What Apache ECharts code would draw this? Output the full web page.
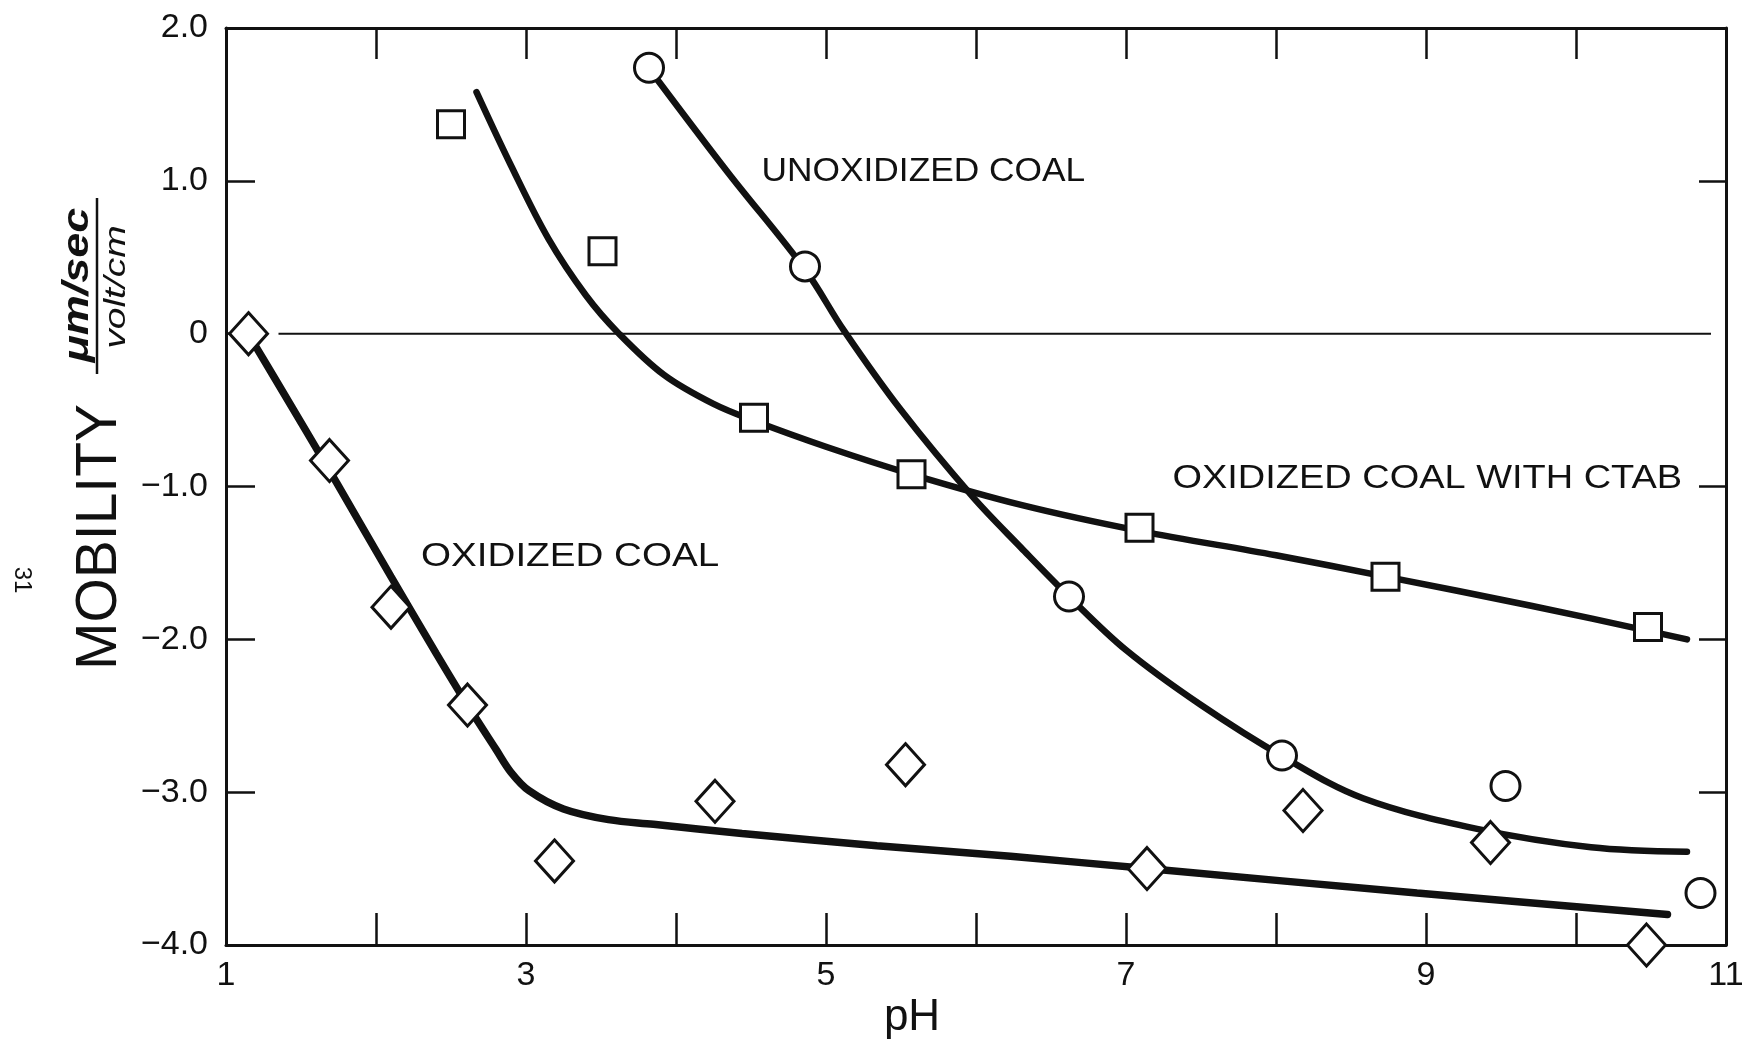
<!DOCTYPE html>
<html>
<head>
<meta charset="utf-8">
<script src="https://cdn.jsdelivr.net/npm/echarts@6/dist/echarts.min.js"></script>
<style>
  html, body { margin: 0; padding: 0; background: #ffffff; }
  #chart { width: 1743px; height: 1044px; }
</style>
</head>
<body>
<div id="chart"></div>
<script>
// Measured electrophoretic mobility, [pH, mobility]
const oxidizedPts = [[1.15, 0.00], [1.69, -0.83], [2.10, -1.79], [2.61, -2.43], [3.19, -3.45],
  [4.26, -3.06], [5.53, -2.82], [7.14, -3.50], [8.18, -3.12], [9.43, -3.33], [10.47, -4.00]];
const ctabPts = [[2.50, 1.37], [3.51, 0.54], [4.52, -0.55], [5.57, -0.92], [7.09, -1.27],
  [8.73, -1.59], [10.48, -1.92]];
const unoxidizedPts = [[3.82, 1.74], [4.86, 0.44], [6.62, -1.72], [8.04, -2.76], [9.53, -2.96],
  [10.83, -3.66]];

// Hand-fitted trend curves, [pH, mobility]
const oxidizedFit = [[1.19, -0.07], [1.33, -0.30], [1.74, -0.98], [2.10, -1.59], [2.40, -2.09],
  [2.61, -2.43], [2.80, -2.72], [2.90, -2.87], [3.02, -2.99], [3.25, -3.11], [3.55, -3.18],
  [3.85, -3.21], [4.44, -3.27], [5.34, -3.35], [6.23, -3.42], [7.14, -3.50], [8.94, -3.66],
  [10.61, -3.80]];
const ctabFit = [[2.67, 1.58], [2.90, 1.10], [3.15, 0.62], [3.40, 0.25], [3.62, 0.00],
  [3.92, -0.27], [4.25, -0.46], [4.52, -0.57], [5.00, -0.74], [5.57, -0.92], [6.30, -1.12],
  [7.09, -1.29], [8.00, -1.45], [8.73, -1.59], [9.70, -1.78], [10.74, -2.00]];
const unoxidizedFit = [[3.87, 1.67], [4.35, 1.05], [4.86, 0.42], [5.12, 0.02], [5.50, -0.50],
  [5.98, -1.07], [6.30, -1.40], [6.62, -1.72], [7.00, -2.07], [7.50, -2.43], [8.05, -2.77],
  [8.58, -3.04], [9.34, -3.24], [10.10, -3.36], [10.74, -3.39]];

// Zero reference line
const zeroLine = [[1.35, 0], [10.90, 0]];

// Axis tick labels
const xTickLabels = [1, 3, 5, 7, 9, 11];
const yTickValues = [2, 1, 0, -1, -2, -3, -4];
const rightTickValues = [1, -1, -2, -3];

// Curve labels, anchored at [pH, mobility] (left end of text)
const curveLabels = [
  { text: 'UNOXIDIZED COAL', at: [4.57, 1.06], stretch: 1.07 },
  { text: 'OXIDIZED COAL WITH CTAB', at: [7.31, -0.95], stretch: 1.15 },
  { text: 'OXIDIZED COAL', at: [2.30, -1.46], stretch: 1.17 }
];

const FONT = 'Liberation Sans';
const INK = '#111111';

const chart = echarts.init(document.getElementById('chart'), null, { renderer: 'canvas' });

function yLabel(v) {
  if (v === 0) return '0';
  return (v < 0 ? '\u2212' : '') + Math.abs(v).toFixed(1);
}

const tickBase = { show: true, inside: true, lineStyle: { color: INK, width: 2.5 } };

const markerStyle = { color: '#ffffff', borderColor: INK, borderWidth: 3, opacity: 1 };

chart.setOption({
  animation: false,
  backgroundColor: '#ffffff',
  grid: { left: 226, right: 17, top: 28, bottom: 99, outerBoundsMode: 'none' },
  xAxis: [
    {
      type: 'value', position: 'bottom', min: 1, max: 11, interval: 1,
      axisLine: { show: true, onZero: false, lineStyle: { color: INK, width: 3 } },
      axisTick: Object.assign({}, tickBase, { length: 32 }),
      axisLabel: {
        show: true, customValues: xTickLabels, color: INK, fontFamily: FONT,
        fontSize: 34, margin: 14
      },
      splitLine: { show: false }
    },
    {
      type: 'value', position: 'top', min: 1, max: 11, interval: 1,
      axisLine: { show: true, onZero: false, lineStyle: { color: INK, width: 3 } },
      axisTick: Object.assign({}, tickBase, { length: 31 }),
      axisLabel: { show: false },
      splitLine: { show: false }
    }
  ],
  yAxis: [
    {
      type: 'value', position: 'left', min: -4, max: 2, interval: 1,
      axisLine: { show: true, onZero: false, lineStyle: { color: INK, width: 3 } },
      axisTick: Object.assign({}, tickBase, { length: 29 }),
      axisLabel: {
        show: true, customValues: yTickValues, formatter: yLabel, color: INK,
        fontFamily: FONT, fontSize: 34, margin: 18
      },
      splitLine: { show: false }
    },
    {
      type: 'value', position: 'right', min: -4, max: 2, interval: 1,
      axisLine: { show: true, onZero: false, lineStyle: { color: INK, width: 3 } },
      axisTick: Object.assign({}, tickBase, { length: 27, customValues: rightTickValues }),
      axisLabel: { show: false },
      splitLine: { show: false }
    }
  ],
  series: [
    {
      name: 'zero', type: 'line', data: zeroLine, symbol: 'none', z: 1,
      lineStyle: { color: INK, width: 2 }
    },
    {
      name: 'Oxidized coal fit', type: 'line', data: oxidizedFit, smooth: 0.35, symbol: 'none', z: 2,
      lineStyle: { color: INK, width: 7.5, cap: 'round' }
    },
    {
      name: 'CTAB fit', type: 'line', data: ctabFit, smooth: 0.35, symbol: 'none', z: 2,
      lineStyle: { color: INK, width: 6.5, cap: 'round' }
    },
    {
      name: 'Unoxidized fit', type: 'line', data: unoxidizedFit, smooth: 0.35, symbol: 'none', z: 2,
      lineStyle: { color: INK, width: 6.5, cap: 'round' }
    },
    {
      name: 'Oxidized coal', type: 'scatter', data: oxidizedPts, symbol: 'diamond',
      symbolSize: [38, 42], itemStyle: markerStyle, z: 5, clip: false
    },
    {
      name: 'Oxidized coal with CTAB', type: 'scatter', data: ctabPts, symbol: 'rect',
      symbolSize: 27, itemStyle: markerStyle, z: 5, clip: false
    },
    {
      name: 'Unoxidized coal', type: 'scatter', data: unoxidizedPts, symbol: 'circle',
      symbolSize: 29, itemStyle: markerStyle, z: 5, clip: false
    }
  ]
});

// Text placed on the plot and around the axes
const graphics = [];
curveLabels.forEach(function (lab) {
  const p = chart.convertToPixel({ gridIndex: 0 }, lab.at);
  graphics.push({
    type: 'text', x: p[0], y: p[1], scaleX: lab.stretch, z: 10,
    style: {
      text: lab.text, fill: INK, font: '33px "' + FONT + '"',
      textAlign: 'left', textVerticalAlign: 'middle'
    }
  });
});

// x-axis title
graphics.push({
  type: 'text', x: 912, y: 1018, z: 10,
  style: { text: 'pH', fill: INK, font: '44px "' + FONT + '"', textAlign: 'center', textVerticalAlign: 'middle' }
});

// y-axis title: MOBILITY (µm/sec) / (volt/cm), read bottom to top
graphics.push({
  type: 'text', x: 100, y: 537, rotation: Math.PI / 2, z: 10,
  style: { text: 'MOBILITY', fill: INK, font: '57px "' + FONT + '"', textAlign: 'center', textVerticalAlign: 'middle' }
});
graphics.push({
  type: 'text', x: 78, y: 285, rotation: Math.PI / 2, scaleX: 1.25, z: 10,
  style: { text: '\u03bcm/sec', fill: INK, font: 'italic bold 36px "' + FONT + '"', textAlign: 'center', textVerticalAlign: 'middle' }
});
graphics.push({
  type: 'line', z: 10,
  shape: { x1: 97, y1: 198, x2: 97, y2: 374 },
  style: { stroke: INK, lineWidth: 2.5 }
});
graphics.push({
  type: 'text', x: 117, y: 287, rotation: Math.PI / 2, scaleX: 1.3, z: 10,
  style: { text: 'volt/cm', fill: INK, font: 'italic 30px "' + FONT + '"', textAlign: 'center', textVerticalAlign: 'middle' }
});

// page number at the left margin, turned clockwise
graphics.push({
  type: 'text', x: 22, y: 580, rotation: -Math.PI / 2, z: 10,
  style: { text: '31', fill: INK, font: '24px "' + FONT + '"', textAlign: 'center', textVerticalAlign: 'middle' }
});

chart.setOption({ graphic: graphics });
</script>
</body>
</html>
